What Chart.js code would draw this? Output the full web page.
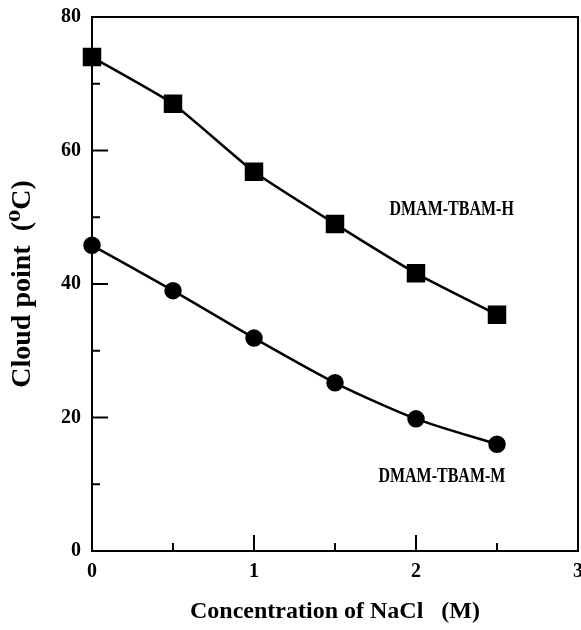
<!DOCTYPE html>
<html>
<head>
<meta charset="utf-8">
<script src="https://cdn.jsdelivr.net/npm/chart.js@4"></script>
<style>
  html, body { margin: 0; padding: 0; background: #fff; overflow: hidden; }
  #wrap { width: 581px; height: 630px; }
  canvas { display: block; }
</style>
</head>
<body>
<div id="wrap"><canvas id="cloudChart"></canvas></div>
<script>
// NaCl concentration (M)
const naclConc = [0, 0.5, 1, 1.5, 2, 2.5];
// cloud point values (deg C)
const cloudH = [74.0, 67.0, 56.8, 49.0, 41.6, 35.4];
const cloudM = [45.8, 39.0, 31.9, 25.2, 19.8, 16.0];
const xTickLabels = ['0', '1', '2', '3'];
const yTickLabels = ['0', '20', '40', '60', '80'];

const serif = '"Liberation Serif", "DejaVu Serif", serif';

// inward ticks, frame and series labels
const framePlugin = {
  id: 'frame',
  afterDraw(chart) {
    const { ctx, chartArea: a, scales: { x, y } } = chart;
    ctx.save();
    ctx.strokeStyle = '#000';
    ctx.lineWidth = 2;
    ctx.strokeRect(a.left, a.top, a.right - a.left, a.bottom - a.top);
    for (let v = 10; v < 80; v += 10) {
      const py = y.getPixelForValue(v);
      const len = v % 20 === 0 ? 16 : 8;
      ctx.beginPath();
      ctx.moveTo(a.left, py);
      ctx.lineTo(a.left + len, py);
      ctx.stroke();
    }
    for (let v = 0.5; v < 3; v += 0.5) {
      const px = x.getPixelForValue(v);
      const len = Number.isInteger(v) ? 16 : 8;
      ctx.beginPath();
      ctx.moveTo(px, a.bottom);
      ctx.lineTo(px, a.bottom - len);
      ctx.stroke();
    }
    // the scanned figure's text is taller than it is wide
    const label = (txt, vx, vy) => {
      ctx.save();
      ctx.translate(x.getPixelForValue(vx), y.getPixelForValue(vy));
      ctx.scale(1, 1.25);
      ctx.fillText(txt, 0, 0);
      ctx.restore();
    };
    ctx.fillStyle = '#000';
    ctx.font = 'bold 16px ' + serif;
    ctx.textAlign = 'center';
    ctx.textBaseline = 'middle';
    label('DMAM-TBAM-H', 2.22, 51.1);
    label('DMAM-TBAM-M', 2.16, 11.1);
    ctx.restore();
  }
};

const toPoints = ys => naclConc.map((c, i) => ({ x: c, y: ys[i] }));

new Chart(document.getElementById('cloudChart'), {
  type: 'line',
  data: {
    datasets: [
      {
        label: 'DMAM-TBAM-H',
        data: toPoints(cloudH),
        borderColor: '#000',
        backgroundColor: '#000',
        borderWidth: 2.5,
        pointStyle: 'rect',
        pointRadius: 11.3,
        tension: 0.15,
        clip: false
      },
      {
        label: 'DMAM-TBAM-M',
        data: toPoints(cloudM),
        borderColor: '#000',
        backgroundColor: '#000',
        borderWidth: 2.5,
        pointStyle: 'circle',
        pointRadius: 7.5,
        tension: 0.25,
        clip: false
      }
    ]
  },
  options: {
    responsive: true,
    maintainAspectRatio: false,
    animation: false,
    layout: { autoPadding: false, padding: { top: 17, right: 3, left: 0, bottom: 0 } },
    scales: {
      x: {
        type: 'linear',
        min: 0,
        max: 3,
        afterFit: s => { s.height = 79; s.paddingLeft = 0; s.paddingRight = 0; },
        afterBuildTicks: s => { s.ticks = xTickLabels.map(t => ({ value: Number(t) })); },
        grid: { display: false, drawTicks: false },
        border: { display: false },
        ticks: {
          color: '#000',
          padding: 9,
          font: { family: serif, size: 20, weight: 'bold' },
          callback: v => xTickLabels[v]
        },
        title: {
          display: true,
          text: 'Concentration of NaCl   (M)',
          color: '#000',
          padding: { top: 12 },
          font: { family: serif, size: 24, weight: 'bold' }
        }
      },
      y: {
        min: 0,
        max: 80,
        afterFit: s => { s.width = 92; s.paddingTop = 0; s.paddingBottom = 0; },
        afterBuildTicks: s => { s.ticks = yTickLabels.map(t => ({ value: Number(t) })); },
        grid: { display: false, drawTicks: false },
        border: { display: false },
        ticks: {
          color: '#000',
          padding: 11,
          font: { family: serif, size: 20, weight: 'bold' },
          callback: v => String(v)
        },
        title: {
          display: true,
          text: 'Cloud point  (\u2070C)',
          color: '#000',
          padding: { top: 6, bottom: 0 },
          font: { family: serif, size: 28, weight: 'bold' }
        }
      }
    },
    plugins: {
      legend: { display: false },
      tooltip: { enabled: false }
    }
  },
  plugins: [framePlugin]
});
</script>
</body>
</html>
